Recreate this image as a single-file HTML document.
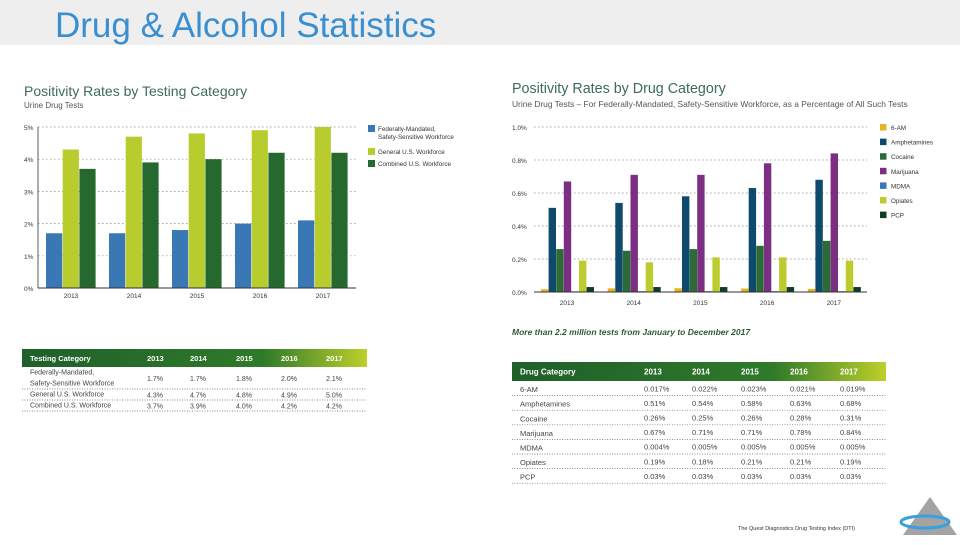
<!DOCTYPE html>
<html><head><meta charset="utf-8"><style>
body{margin:0;width:960px;height:540px;overflow:hidden;background:#fff;font-family:"Liberation Sans",sans-serif}
svg text{font-family:"Liberation Sans",sans-serif}
</style></head><body>
<svg id="s" width="960" height="540" viewBox="0 0 960 540" xmlns="http://www.w3.org/2000/svg">
<defs>
<linearGradient id="hg" x1="0" x2="1" y1="0" y2="0"><stop offset="0" stop-color="#1f5f2a"/><stop offset="0.7" stop-color="#2f7a2a"/><stop offset="1" stop-color="#bcd02a"/></linearGradient>
</defs>
<rect x="0" y="0" width="960" height="45" fill="#eeeeee"/>
<text x="55" y="37" font-size="35" fill="#3a8fd0">Drug &amp; Alcohol Statistics</text>

<text x="24" y="96" font-size="14" fill="#3d6b5a">Positivity Rates by Testing Category</text>
<text x="24" y="108" font-size="8" fill="#555">Urine Drug Tests</text>
<g id="L"></g>

<text x="512" y="93" font-size="14.3" fill="#3d6b5a">Positivity Rates by Drug Category</text>
<text x="512" y="107" font-size="8.4" fill="#555">Urine Drug Tests – For Federally-Mandated, Safety-Sensitive Workforce, as a Percentage of All Such Tests</text>
<g id="R"></g>
<text x="512" y="335" font-size="8.5" font-weight="bold" font-style="italic" fill="#2f5a3a">More than 2.2 million tests from January to December 2017</text>

<g id="LT"></g>
<g id="RT"></g>

<g>
<text x="738" y="530" font-size="5.5" fill="#333">The Quest Diagnostics Drug Testing Index (DTI)</text>
<polygon points="930,497 957,535 903,535" fill="#a3a3a3"/>
<ellipse cx="925" cy="522" rx="24" ry="6" fill="none" stroke="#3aa0dc" stroke-width="3"/>
</g>
</svg>
<script>
const NS="http://www.w3.org/2000/svg";
function el(p,t,a){const e=document.createElementNS(NS,t);for(const k in a)e.setAttribute(k,a[k]);p.appendChild(e);return e;}
const years=["2013","2014","2015","2016","2017"];
// left chart data
const fedVals=[1.7,1.7,1.8,2.0,2.1];
const genVals=[4.3,4.7,4.8,4.9,5.0];
const combVals=[3.7,3.9,4.0,4.2,4.2];
const leftTicks=[0,1,2,3,4,5];
// right chart data
const drugNames=["6-AM","Amphetamines","Cocaine","Marijuana","MDMA","Opiates","PCP"];
const am6=[0.017,0.022,0.023,0.021,0.019];
const amph=[0.51,0.54,0.58,0.63,0.68];
const coca=[0.26,0.25,0.26,0.28,0.31];
const mari=[0.67,0.71,0.71,0.78,0.84];
const mdma=[0.004,0.005,0.005,0.005,0.005];
const opia=[0.19,0.18,0.21,0.21,0.19];
const pcp=[0.03,0.03,0.03,0.03,0.03];
const rightTicks=[0,0.2,0.4,0.6,0.8,1.0];

const L=document.getElementById('L');
const ly=v=>288-v*32.2, lx=i=>71+i*63;
leftTicks.forEach(t=>{
  const y=ly(t);
  if(t>0){const g=el(L,'line',{x1:38,x2:356,y1:y,y2:y,stroke:'#888','stroke-width':0.7,'stroke-dasharray':'1.5,2.5'});
  
  }
  const tx=el(L,'text',{x:24,y:y+3,'font-size':6.5,fill:'#333'});tx.textContent=t+'%';
  
  
});
const lser=[[fedVals,'#3a78b5','federal'],[genVals,'#b9cc2e','general'],[combVals,'#26692e','combined']];
years.forEach((yr,i)=>{
  lser.forEach((s,j)=>{
    const v=s[0][i];
    const r=el(L,'rect',{x:lx(i)-25+j*16.7,y:ly(v),width:16.2,height:ly(0)-ly(v),fill:s[1]});
    
    
  });
  const t=el(L,'text',{x:lx(i),y:298,'font-size':6.5,fill:'#333','text-anchor':'middle'});t.textContent=yr;
  
  
});
el(L,'line',{x1:38,x2:356,y1:288,y2:288,stroke:'#333','stroke-width':1});
el(L,'line',{x1:38,x2:38,y1:127,y2:288,stroke:'#333','stroke-width':0.8});
const lleg=[['Federally-Mandated,','Safety-Sensitive Workforce','#3a78b5',127],['General U.S. Workforce','','#b9cc2e',150],['Combined U.S. Workforce','','#26692e',162]];
lleg.forEach(l=>{
  const g=el(L,'g',{});
  
  
  el(g,'rect',{x:368,y:l[3]-2,width:7,height:7,fill:l[2]});
  const t=el(g,'text',{x:378,y:l[3]+4,'font-size':6.3,fill:'#333'});t.textContent=l[0];
  if(l[1]){const t2=el(g,'text',{x:378,y:l[3]+12,'font-size':6.3,fill:'#333'});t2.textContent=l[1];}
});

const R=document.getElementById('R');
const ry=v=>292-v*165, rx=i=>567+i*66.7;
rightTicks.forEach(t=>{
  const y=ry(t);
  if(t>0){const g=el(R,'line',{x1:534,x2:867,y1:y,y2:y,stroke:'#888','stroke-width':0.7,'stroke-dasharray':'1.5,2.5'});
  
  }
  const tx=el(R,'text',{x:512,y:y+3,'font-size':6.5,fill:'#333'});tx.textContent=t.toFixed(1)+'%';
  
  
});
const rser=[[am6,'#e5b423'],[amph,'#0d4a6b'],[coca,'#2c6b35'],[mari,'#7b2f82'],[mdma,'#3a78b5'],[opia,'#bccc2e'],[pcp,'#0e3d24']];
years.forEach((yr,i)=>{
  rser.forEach((s,j)=>{
    const v=s[0][i];
    const r=el(R,'rect',{x:rx(i)-26+j*7.6,y:ry(v),width:7.4,height:Math.max(0.5,ry(0)-ry(v)),fill:s[1]});
    
    
  });
  const t=el(R,'text',{x:rx(i),y:305,'font-size':6.5,fill:'#333','text-anchor':'middle'});t.textContent=yr;
  
  
});
el(R,'line',{x1:534,x2:867,y1:292,y2:292,stroke:'#333','stroke-width':1});
drugNames.forEach((n,j)=>{
  const y=127+j*14.6;
  const g=el(R,'g',{});
  
  
  el(g,'rect',{x:880,y:y-3,width:6.5,height:6.5,fill:rser[j][1]});
  const t=el(g,'text',{x:891,y:y+3,'font-size':6.3,fill:'#333'});t.textContent=n;
});

// tables
function table(p,x,w,hy,hh,cols,colX,rows,rowH,fs,name){
  const g=el(p,'g',{});
  
  
  el(g,'rect',{x:x,y:hy,width:w,height:hh,fill:'url(#hg)'});
  cols.forEach((c,i)=>{const t=el(g,'text',{x:colX[i],y:hy+hh/2+3,'font-size':fs+0.5,'font-weight':'bold',fill:'#fff'});t.textContent=c;});
  let y=hy+hh;
  rows.forEach(r=>{
    const lines=r[0].length, h=rowH*lines;
    r[0].forEach((ln,k)=>{const t=el(g,'text',{x:colX[0],y:y+rowH*(k+1)-3.5,'font-size':fs,fill:'#444'});t.textContent=ln;});
    r.slice(1).forEach((v,i)=>{const t=el(g,'text',{x:colX[i+1],y:y+h/2+3,'font-size':fs,fill:'#444'});t.textContent=v;});
    y+=h;
    el(g,'line',{x1:x,x2:x+w,y1:y,y2:y,stroke:'#666','stroke-width':0.7,'stroke-dasharray':'1,1.5'});
  });
}
const pct=a=>a.map(v=>v.toFixed(1)+'%');
table(document.getElementById('LT'),22,345,349,18,['Testing Category',...years],[30,147,190,236,281,326],
 [[['Federally-Mandated,','Safety-Sensitive Workforce'],...pct(fedVals)],[['General U.S. Workforce'],...pct(genVals)],[['Combined U.S. Workforce'],...pct(combVals)]],11,7,'left-table');
const fm=(a,d)=>a.map(v=>v.toFixed(d)+'%');
table(document.getElementById('RT'),512,374,362,19,['Drug Category',...years],[520,644,692,741,790,840],
 [[['6-AM'],...fm(am6,3)],[['Amphetamines'],...fm(amph,2)],[['Cocaine'],...fm(coca,2)],[['Marijuana'],...fm(mari,2)],[['MDMA'],...fm(mdma,3)],[['Opiates'],...fm(opia,2)],[['PCP'],...fm(pcp,2)]],14.6,7.5,'right-table');
</script>
</body></html>
